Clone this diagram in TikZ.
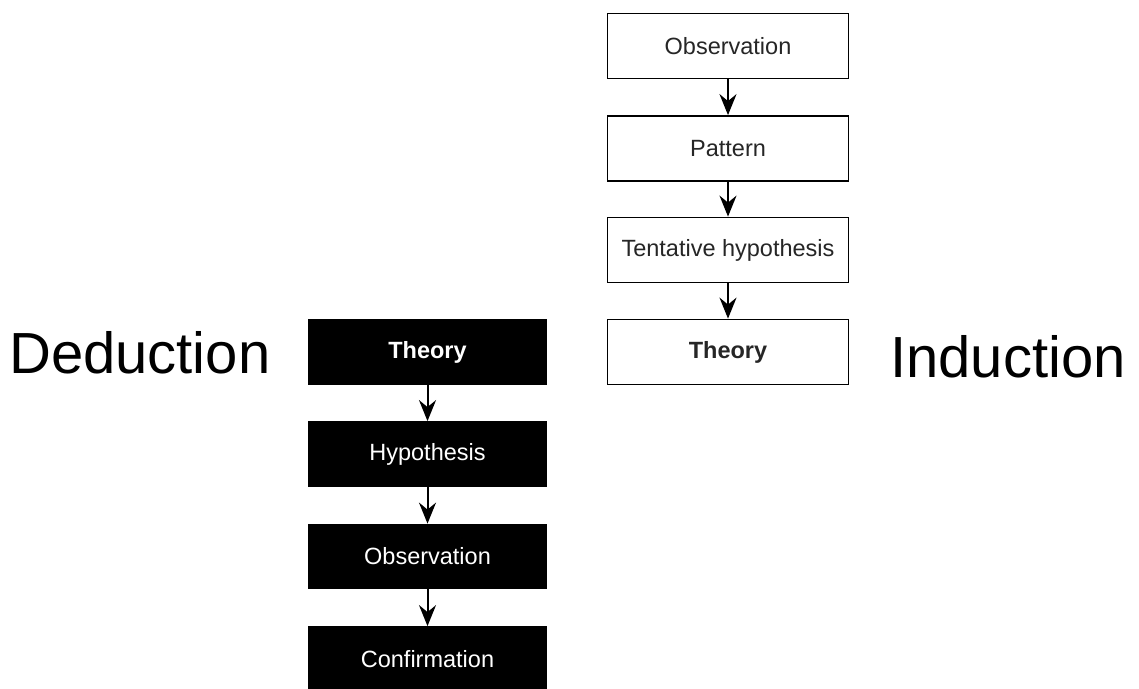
\documentclass[tikz,border=0pt]{standalone}
\usepackage{fontspec}
\setmainfont{Liberation Sans}
\usetikzlibrary{arrows.meta}
\begin{document}
\begin{tikzpicture}[x=1pt,y=-1pt,
  wbox/.style={draw=black, line width=1.8pt, fill=white, minimum width=241pt, minimum height=65pt, inner sep=0pt, font=\fontsize{23.5}{27}\selectfont, text=black!85},
  bbox/.style={draw=black, line width=1.8pt, fill=black, minimum width=238pt, minimum height=64pt, inner sep=0pt, font=\fontsize{23.5}{27}\selectfont, text=white},
  flow/.style={line width=2pt, -{Stealth[length=21pt,width=17pt,inset=7pt]}},
  title/.style={anchor=base west, inner sep=0pt, font=\fontsize{58}{64}\selectfont}]
\useasboundingbox (0,0) rectangle (1139,688);
% inductive chain
\node[wbox] (iobs) at (728,46) {Observation};
\node[wbox] (ipat) at (728,148.5) {Pattern};
\node[wbox] (ihyp) at (728,250) {Tentative hypothesis};
\node[wbox] (ithe) at (728,352) {\bfseries Theory};
\draw[flow] (iobs) -- (ipat);
\draw[flow] (ipat) -- (ihyp);
\draw[flow] (ihyp) -- (ithe);
% deductive chain
\node[bbox] (dthe) at (427.5,352) {\bfseries Theory};
\node[bbox] (dhyp) at (427.5,454) {Hypothesis};
\node[bbox] (dobs) at (427.5,556.5) {Observation};
\node[bbox] (dcon) at (427.5,659) {Confirmation};
\draw[flow] (dthe) -- (dhyp);
\draw[flow] (dhyp) -- (dobs);
\draw[flow] (dobs) -- (dcon);
% headings
\node[title] (ded) at (9,373) {Deduction};
\node[title] (ind) at (890,377) {Induction};
\end{tikzpicture}
\end{document}
